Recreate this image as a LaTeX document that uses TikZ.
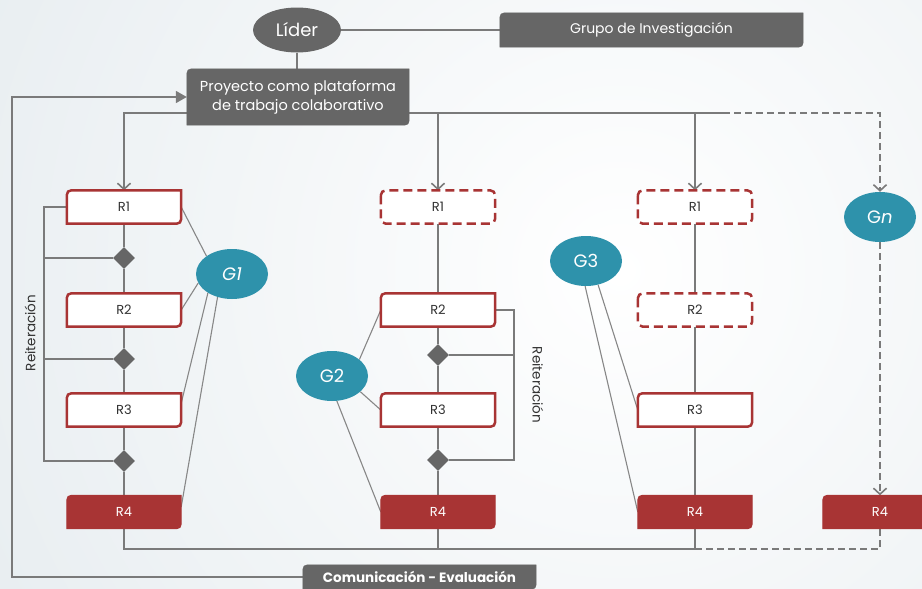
\documentclass[tikz,border=0pt]{standalone}
\usepackage{fontspec}
\setmainfont{Poppins}
\usetikzlibrary{shapes.geometric,arrows.meta,calc}
\definecolor{boxgray}{RGB}{102,102,102}
\definecolor{linegray}{RGB}{122,122,122}
\definecolor{thinline}{RGB}{135,135,135}
\definecolor{rred}{RGB}{168,52,52}
\definecolor{teal1}{RGB}{46,146,171}
\definecolor{bgedge}{RGB}{218,227,232}
\definecolor{txtdark}{RGB}{50,50,50}
\pgfdeclarelayer{bg}\pgfdeclarelayer{lines}\pgfdeclarelayer{boxes}
\pgfsetlayers{bg,lines,boxes,main}
\newcommand\rshape[2]{\draw[#2] ($(#1.north west)+(0pt,-10pt)$) .. controls (#1.north west) .. ($(#1.north west)+(10pt,0pt)$) -- (#1.north east) -- ($(#1.south east)+(0pt,10pt)$) .. controls (#1.south east) .. ($(#1.south east)+(-10pt,0pt)$) -- (#1.south west) -- cycle;}
\tikzset{
  rbox/.style={minimum width=114pt, minimum height=33pt, inner sep=0pt, text=txtdark, font=\fontsize{13}{15}\selectfont},
  rwhite/.style={fill=white, draw=rred, line width=2.5pt},
  rsolid/.style={fill=rred, draw=rred, line width=1pt},
  rdash/.style={fill=white, draw=rred, line width=2.5pt, dash pattern=on 9pt off 5pt, rounded corners=5pt},
  gfill/.style={fill=boxgray, draw=boxgray, line width=0.5pt},
  grp/.style={ellipse, fill=teal1, minimum width=72pt, minimum height=50pt, inner sep=0pt, text=white, font=\fontsize{18}{20}\selectfont},
  dmd/.style={diamond, fill=boxgray, minimum size=22pt, inner sep=0pt},
  conn/.style={draw=linegray, line width=1.6pt},
  arr/.style={conn, -{Straight Barb[length=6pt,width=13pt]}},
  dconn/.style={conn, dash pattern=on 7pt off 4pt},
  darr/.style={dconn, -{Straight Barb[length=6pt,width=13pt]}},
  gline/.style={draw=thinline, line width=1.1pt},
  lbl/.style={text=txtdark, font=\fontsize{13.5}{15}\selectfont}
}
\begin{document}
\begin{tikzpicture}[x=1pt,y=-1pt]
\useasboundingbox (0,0) rectangle (922,589);
\begin{pgfonlayer}{bg}
  \begin{scope}
    \clip (0,0) rectangle (922,589);
    \fill[bgedge] (0,0) rectangle (922,589);
    \shade[inner color=white, outer color=bgedge] (620,270) circle (1150pt);
  \end{scope}
\end{pgfonlayer}

% top nodes
\node[ellipse, fill=boxgray, minimum width=88pt, minimum height=45pt, inner sep=0pt, text=white, font=\fontsize{18}{20}\selectfont] (L) at (297,30) {Líder};
\node[minimum width=303pt, minimum height=34pt, inner sep=0pt, text=white, font=\fontsize{14}{16}\selectfont] (GI) at (651.5,30) {Grupo de Investigación};
\node[minimum width=222pt, minimum height=56pt, inner sep=0pt, text=white, align=center, font=\fontsize{14.5}{19}\selectfont] (P) at (298,97) {Proyecto como plataforma\\de trabajo colaborativo};
\node[minimum width=233pt, minimum height=24pt, inner sep=0pt, text=white, font=\bfseries\fontsize{13.5}{15}\selectfont] (CE) at (419.5,577) {Comunicación - Evaluación};

% column 1
\node[rbox] (R1a) at (124,207) {R1};
\node[rbox] (R2a) at (124,310) {R2};
\node[rbox] (R3a) at (124,410) {R3};
\node[rbox, text=white] (R4a) at (124,512) {R4};
\node[dmd] (d1) at (124,258) {};
\node[dmd] (d2) at (124,359) {};
\node[dmd] (d3) at (124,461) {};
% column 2
\node[rbox] (R1b) at (438,207) {R1};
\node[rbox] (R2b) at (438,310) {R2};
\node[rbox] (R3b) at (438,410) {R3};
\node[rbox, text=white] (R4b) at (438,512) {R4};
\node[dmd] (d4) at (438,355) {};
\node[dmd] (d5) at (438,460) {};
% column 3
\node[rbox] (R1c) at (695,207) {R1};
\node[rbox] (R2c) at (695,310) {R2};
\node[rbox] (R3c) at (695,410) {R3};
\node[rbox, text=white] (R4c) at (695,512) {R4};
% column 4
\node[rbox, text=white] (R4d) at (880,512) {R4};

% groups
\node[grp] (G1) at (232,274) {\itshape G1};
\node[grp] (G2) at (332,376) {G2};
\node[grp] (G3) at (586,261) {G3};
\node[grp] (Gn) at (880,217) {G\textit{n}};

% labels
\node[lbl, rotate=90] (it1) at (30,333) {Reiteración};
\node[lbl, rotate=-90] (it2) at (538,385) {Reiteración};

% coordinates
\coordinate (tL) at (187,113);
\coordinate (tR) at (409,113);
\coordinate (tD) at (723,113);
\coordinate (lb) at (12,577);
\coordinate (lt) at (12,97);
\coordinate (bC) at (695,549);
\coordinate (l1) at (44,207);
\coordinate (l3) at (44,461);
\coordinate (r1) at (514,310);
\coordinate (r3) at (514,460);

\begin{pgfonlayer}{boxes}
  \rshape{GI}{gfill}
  \rshape{P}{gfill}
  \rshape{CE}{gfill}
  \rshape{R1a}{rwhite}
  \rshape{R2a}{rwhite}
  \rshape{R3a}{rwhite}
  \rshape{R4a}{rsolid}
  \draw[rdash] (R1b.north west) rectangle (R1b.south east);
  \rshape{R2b}{rwhite}
  \rshape{R3b}{rwhite}
  \rshape{R4b}{rsolid}
  \draw[rdash] (R1c.north west) rectangle (R1c.south east);
  \draw[rdash] (R2c.north west) rectangle (R2c.south east);
  \rshape{R3c}{rwhite}
  \rshape{R4c}{rsolid}
  \rshape{R4d}{rsolid}
\end{pgfonlayer}

\begin{pgfonlayer}{lines}
  \draw[conn] (L) -- (GI.west);
  \draw[conn] (L) -- (L |- P.north);
  % distribution from project
  \draw[arr] (tL) -| (R1a.north);
  \draw[arr] (tR) -| (R1b.north);
  \draw[arr] (tR) -| (R1c.north);
  \draw[conn] (tR) -- (tD);
  \draw[darr] (tD) -| (Gn.north);
  % feedback loop
  \draw[conn, -{Triangle[length=11pt,width=12pt]}] (CE.west) -- (lb) -- (lt) -- (P.west);
  % column 1
  \draw[conn] (R1a) -- (d1) -- (R2a) -- (d2) -- (R3a) -- (d3) -- (R4a);
  \draw[conn] (R1a.west) -- (l1) -- (l3) -- (d3.west);
  \draw[conn] (d1.west) -- (d1.west -| l1);
  \draw[conn] (d2.west) -- (d2.west -| l1);
  % column 2
  \draw[conn] (R1b) -- (R2b) -- (d4) -- (R3b) -- (d5) -- (R4b);
  \draw[conn] (R2b.east) -- (r1) -- (r3) -- (d5.east);
  \draw[conn] (d4.east) -- (d4.east -| r1);
  % column 3
  \draw[conn] (R1c) -- (R2c) -- (R3c) -- (R4c);
  % column 4
  \draw[darr] (Gn) -- (R4d.north);
  % bottom collector
  \draw[conn] (R4a.south) |- (bC);
  \draw[conn] (R4b.south) -- (R4b.south |- bC);
  \draw[conn] (R4c.south) -- (bC);
  \draw[dconn] (bC) -| (R4d.south);
  % group links
  \draw[gline] (G1.145) -- (R1a.east);
  \draw[gline] (G1.195) -- (R2a.east);
  \draw[gline] (G1.218) -- ($(R3a.north east)!0.3!(R3a.south east)$);
  \draw[gline] (G1.238) -- ($(R4a.north east)!0.35!(R4a.south east)$);
  \draw[gline] (G2.31) -- (R2b.west);
  \draw[gline] (G2.331) -- (R3b.west);
  \draw[gline] (G2.281) -- (R4b.west);
  \draw[gline] (G3.297) -- (R3c.west);
  \draw[gline] (G3.268) -- (R4c.west);
\end{pgfonlayer}
\end{tikzpicture}
\end{document}
